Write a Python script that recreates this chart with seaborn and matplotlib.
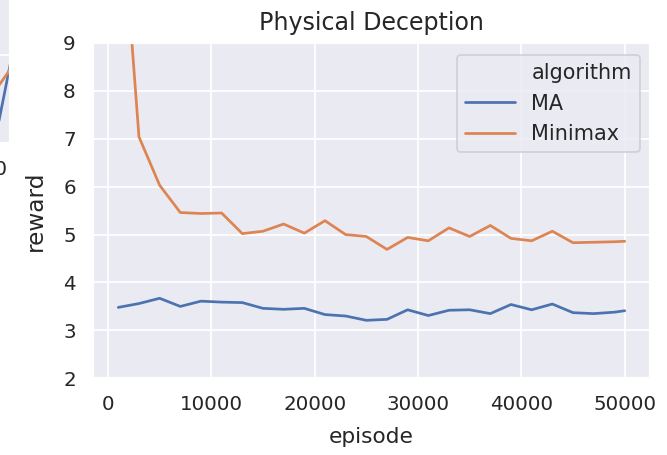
import matplotlib
matplotlib.use("Agg")
import matplotlib.pyplot as plt
from matplotlib.lines import Line2D
import seaborn as sns
import pandas as pd

# values
episode = [1000, 3000, 5000, 7000, 9000, 11000, 13000, 15000, 17000, 19000,
           21000, 23000, 25000, 27000, 29000, 31000, 33000, 35000, 37000, 39000,
           41000, 43000, 45000, 47000, 49000, 50000]
ma_reward = [3.48, 3.56, 3.67, 3.50, 3.61, 3.59, 3.58, 3.46, 3.44, 3.46,
             3.33, 3.30, 3.21, 3.23, 3.43, 3.31, 3.42, 3.43, 3.35, 3.54,
             3.43, 3.55, 3.37, 3.35, 3.38, 3.41]
minimax_reward = [12.8, 7.04, 6.03, 5.46, 5.44, 5.45, 5.02, 5.07, 5.22, 5.03,
                  5.29, 5.00, 4.96, 4.69, 4.94, 4.87, 5.14, 4.96, 5.19, 4.92,
                  4.87, 5.07, 4.83, 4.84, 4.85, 4.86]
algorithms = ["MA", "Minimax"]

# tail of the neighbouring panel that is cut off on the left
left_episode = [52000, 54000]
left_ma = [0.06, 0.63]
left_minimax = [0.30, 0.46]

df = pd.DataFrame({
    "episode": episode * 2,
    "reward": ma_reward + minimax_reward,
    "algorithm": [algorithms[0]] * len(episode) + [algorithms[1]] * len(episode),
})

sns.set_theme()
fig = plt.figure(figsize=(667 / 130, 455 / 130), dpi=130)

# main panel
ax = fig.add_axes([0.1394, 0.1686, 0.8351, 0.737])
sns.lineplot(data=df, x="episode", y="reward", hue="algorithm",
             hue_order=algorithms, ax=ax, legend=False)
ax.set_ylim(2, 9)
ax.set_yticks(range(2, 10))
ax.set_xticks(range(0, 50001, 10000))
ax.set_title("Physical Deception", fontsize=13.2, pad=7)
ax.set_xlabel("episode", labelpad=7)
ax.set_ylabel("reward", fontsize=12.8, labelpad=9)

blank = Line2D([], [], alpha=0)
handles = [blank] + ax.lines[:2]
ax.legend(handles, ["algorithm"] + algorithms, loc="upper right",
          bbox_to_anchor=(0.982, 0.964), borderaxespad=0,
          fontsize=11.5, handlelength=2.4)

# partial panel on the left edge
left = fig.add_axes([-0.8208, 0.6857, 0.8351, 0.4])
left.plot(left_episode, left_ma, color=sns.color_palette()[0])
left.plot(left_episode, left_minimax, color=sns.color_palette()[1])
left.set_xlim(-660, 53240)
left.set_ylim(0, 1)
left.set_xticks([50000])
left.set_yticks([0.4835])
left.set_yticklabels([""])

fig.savefig("out.png", dpi=130)
